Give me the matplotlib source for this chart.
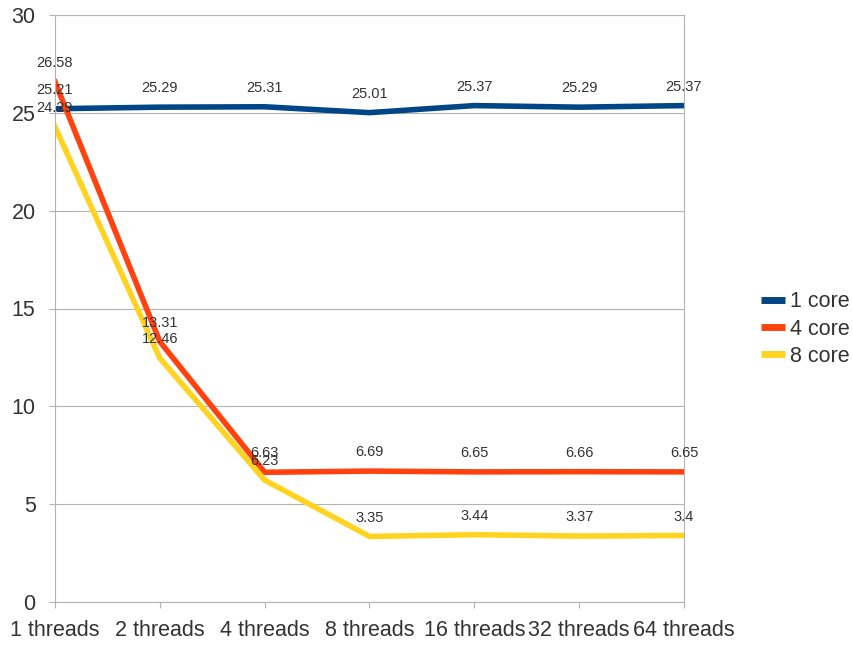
import matplotlib
matplotlib.use('Agg')
import matplotlib.pyplot as plt

# Data
threads = ['1 threads', '2 threads', '4 threads', '8 threads',
           '16 threads', '32 threads', '64 threads']
core1 = [25.21, 25.29, 25.31, 25.01, 25.37, 25.29, 25.37]
core4 = [26.58, 13.31, 6.63, 6.69, 6.65, 6.66, 6.65]
core8 = [24.29, 12.46, 6.23, 3.35, 3.44, 3.37, 3.4]

series = [('1 core', core1, '#004586'),
          ('4 core', core4, '#ff420e'),
          ('8 core', core8, '#ffd320')]

plt.rcParams['font.family'] = ['Liberation Sans', 'DejaVu Sans']

fig = plt.figure(figsize=(8.54, 6.5), dpi=100)
ax = fig.add_axes([55 / 854, 48 / 650, 629 / 854, 587 / 650])

x = list(range(len(threads)))
for name, vals, col in series:
    ax.plot(x, vals, color=col, lw=4, label=name, solid_joinstyle='miter')
    for xi, v in zip(x, vals):
        ax.annotate('{:g}'.format(v), (xi, v), xytext=(0, 8.5),
                    textcoords='offset points', ha='center', va='bottom',
                    fontsize=10.5, color='#333333')

ax.set_xlim(0, 6)
ax.set_ylim(0, 30)
ax.set_yticks(range(0, 31, 5))
ax.set_xticks(x)
ax.set_xticklabels(threads)
ax.grid(axis='y', color='#b3b3b3', lw=0.8)
ax.set_axisbelow(True)
for s in ax.spines.values():
    s.set_color('#b3b3b3')
ax.tick_params(axis='both', colors='#b3b3b3', labelcolor='#333333',
               labelsize=15.5, length=4)
ax.tick_params(axis='x', pad=9)
ax.tick_params(axis='y', pad=10)

leg = ax.legend(loc='center left', bbox_to_anchor=(1.099, 0.465), frameon=False,
                fontsize=15.5, handlelength=1.1, labelspacing=0.3,
                handletextpad=0.25, borderaxespad=0.3, labelcolor='#333333')
for h in leg.get_lines():
    h.set_linewidth(5)
    h.set_solid_capstyle('butt')

fig.savefig('out.png', dpi=100)
